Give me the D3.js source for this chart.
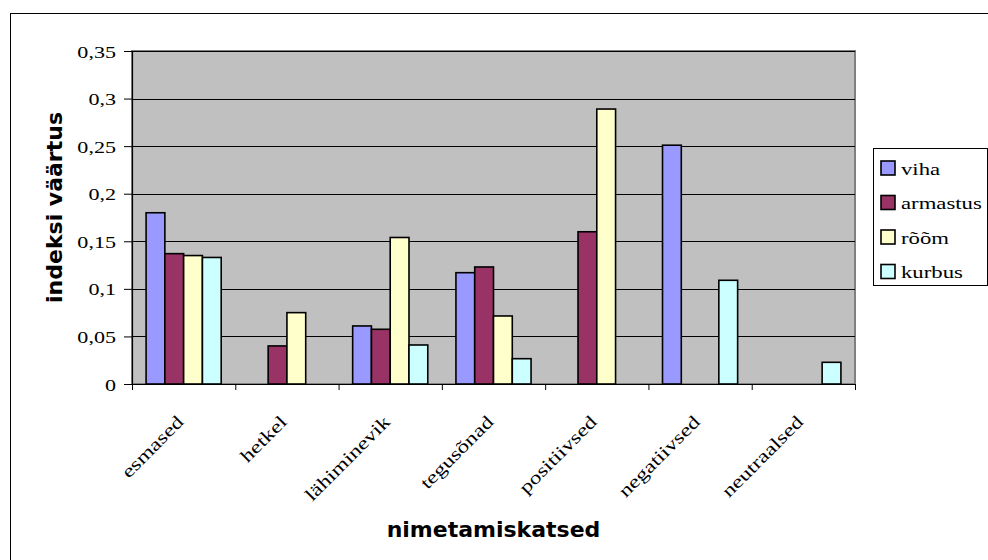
<!DOCTYPE html>
<html>
<head>
<meta charset="utf-8">
<script src="https://cdn.jsdelivr.net/npm/d3@7/dist/d3.min.js"></script>
<style>
  html, body { margin: 0; padding: 0; background: #fff; }
  svg { display: block; }
  .serif { font-family: "Liberation Serif"; }
  .sansb { font-family: "DejaVu Sans"; font-weight: bold; }
</style>
</head>
<body>
<svg id="chart" width="988" height="560"></svg>
<script>
// ---- data ----
const categories = ["esmased", "hetkel", "lähiminevik", "tegusõnad", "positiivsed", "negatiivsed", "neutraalsed"];
const seriesNames = ["viha", "armastus", "rõõm", "kurbus"];
const viha     = [0.180, null,  0.061,  0.117,  null,  0.251, null];
const armastus = [0.137, 0.040, 0.0575, 0.123,  0.160, null,  null];
const room     = [0.135, 0.075, 0.154,  0.0715, 0.289, null,  null];
const kurbus   = [0.133, null,  0.041,  0.0266, null,  0.109, 0.0228];
const yTicks = [0, 0.05, 0.1, 0.15, 0.2, 0.25, 0.3, 0.35];
const yTickLabels = ["0", "0,05", "0,1", "0,15", "0,2", "0,25", "0,3", "0,35"];
const seriesColors = ["#9999FF", "#993366", "#FFFFCC", "#CCFFFF"];
const yTitle = "indeksi väärtus";
const xTitle = "nimetamiskatsed";

const seriesValues = [viha, armastus, room, kurbus];

// ---- layout ----
const svg = d3.select("#chart");
const plot = { left: 132, top: 51, right: 855, bottom: 384 };
const stretch = 1.3;

// outer chart border
svg.append("rect")
  .attr("x", 10.5).attr("y", 13.5)
  .attr("width", 1000).attr("height", 600)
  .attr("fill", "#fff").attr("stroke", "#000").attr("stroke-width", 1);

const x0 = d3.scaleBand().domain(categories).range([plot.left, plot.right]).padding(0);
const step = x0.bandwidth();
const barW = step / 5.5;
const x1 = d3.scaleBand().domain(seriesNames)
  .range([barW * 0.75, barW * 0.75 + barW * 4]).padding(0);
const y = d3.scaleLinear().domain([0, 0.35]).range([plot.bottom, plot.top]);

// plot background
svg.append("rect")
  .attr("x", plot.left).attr("y", plot.top)
  .attr("width", plot.right - plot.left).attr("height", plot.bottom - plot.top)
  .attr("fill", "#C0C0C0").attr("stroke", "#808080").attr("stroke-width", 2);

// gridlines
svg.append("g")
  .selectAll("line")
  .data(yTicks.filter(t => t > 0))
  .join("line")
  .attr("x1", plot.left).attr("x2", plot.right)
  .attr("y1", d => Math.round(y(d)) + 0.5).attr("y2", d => Math.round(y(d)) + 0.5)
  .attr("stroke", "#000").attr("stroke-width", 1);

// bars
const rows = categories.map((c, i) => ({
  cat: c,
  vals: seriesNames.map((s, j) => ({ s, j, v: seriesValues[j][i] }))
}));
const groups = svg.append("g").selectAll("g")
  .data(rows).join("g")
  .attr("transform", d => `translate(${x0(d.cat)},0)`);
groups.selectAll("rect")
  .data(d => d.vals.filter(e => e.v !== null))
  .join("rect")
  .attr("x", d => x1(d.s))
  .attr("y", d => y(d.v))
  .attr("width", x1.bandwidth())
  .attr("height", d => y(0) - y(d.v))
  .attr("fill", d => seriesColors[d.j])
  .attr("stroke", "#000").attr("stroke-width", 1.6);

// y axis
const yAxis = d3.axisLeft(y).tickValues(yTicks)
  .tickFormat((d, i) => yTickLabels[i]).tickSize(8).tickPadding(8);
const gy = svg.append("g").attr("transform", `translate(${plot.left},0)`).call(yAxis)
  .attr("font-family", null).attr("font-size", null);
gy.select(".domain").attr("stroke", "#000").attr("stroke-width", 1.2);
gy.selectAll(".tick line").attr("stroke", "#000");
gy.selectAll(".tick text")
  .attr("class", "serif")
  .attr("font-size", 17).attr("fill", "#000")
  .attr("x", null).attr("dy", null)
  .attr("dominant-baseline", "central")
  .attr("transform", `translate(-16,0) scale(${stretch},1)`);

// x axis
const boundaries = categories.map(c => x0(c)).concat([plot.right]);
const xAxis = d3.axisBottom(d3.scaleLinear().domain([plot.left, plot.right]).range([plot.left, plot.right]))
  .tickValues(boundaries).tickFormat("").tickSize(6).tickSizeOuter(0);
const gx = svg.append("g").attr("transform", `translate(0,${plot.bottom})`).call(xAxis);
gx.select(".domain").attr("stroke", "#000").attr("stroke-width", 1.2);
gx.selectAll(".tick line").attr("stroke", "#000");

// x labels
svg.append("g").selectAll("text")
  .data(categories).join("text")
  .attr("class", "serif")
  .attr("transform", d => `translate(${x0(d) + step / 2 + 1},${plot.bottom + 39}) rotate(-45) scale(${stretch},1)`)
  .attr("text-anchor", "end")
  .attr("font-size", 18).attr("fill", "#000")
  .text(d => d);

// axis titles
svg.append("text")
  .attr("class", "sansb")
  .attr("transform", `translate(62,207.5) rotate(-90)`)
  .attr("text-anchor", "middle")
  .attr("font-size", 22)
  .attr("fill", "#000").text(yTitle);
svg.append("text")
  .attr("class", "sansb")
  .attr("x", (plot.left + plot.right) / 2).attr("y", 536.5)
  .attr("text-anchor", "middle")
  .attr("font-size", 22)
  .attr("fill", "#000").text(xTitle);

// legend
const legend = svg.append("g");
legend.append("rect")
  .attr("x", 873.5).attr("y", 148.5).attr("width", 114).attr("height", 137)
  .attr("fill", "#fff").attr("stroke", "#000").attr("stroke-width", 1);
const items = legend.selectAll("g.item")
  .data(seriesNames).join("g").attr("class", "item")
  .attr("transform", (d, i) => `translate(881,${168 + i * 34.5})`);
items.append("rect")
  .attr("x", 0).attr("y", -7).attr("width", 14).attr("height", 14)
  .attr("fill", (d, i) => seriesColors[i]).attr("stroke", "#000").attr("stroke-width", 1.6);
items.append("text")
  .attr("class", "serif")
  .attr("transform", `translate(20,6.5) scale(1.3,1)`)
  .attr("font-size", 17.5).attr("fill", "#000")
  .text(d => d);
</script>
</body>
</html>
